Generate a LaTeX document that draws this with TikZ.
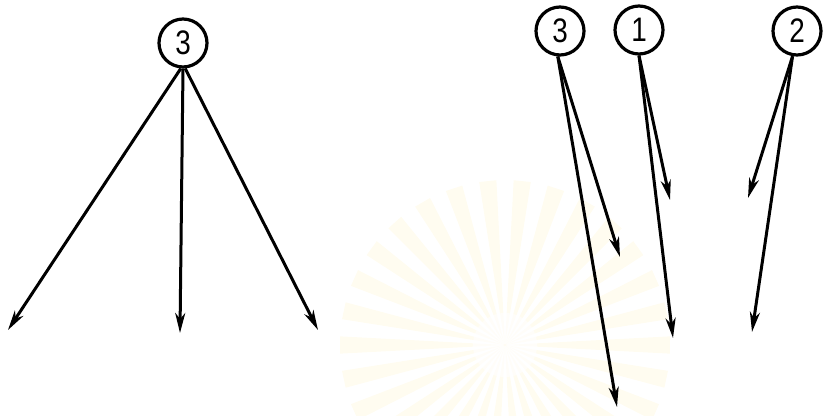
\documentclass[tikz,border=0pt]{standalone}
\usepackage{fontspec}
\setmainfont{Liberation Sans}
\newfontfamily\digitfont[FakeStretch=0.82]{Liberation Sans}
\usetikzlibrary{arrows.meta}
\begin{document}
\begin{tikzpicture}[x=1pt,y=-1pt,
  num/.style={circle,draw,line width=3.2pt,minimum size=48pt,inner sep=0pt,font=\digitfont\fontsize{34}{34}\selectfont},
  arr/.style={line width=3pt,-{Stealth[length=20pt,width=10pt,inset=6pt]}},
  ray/.style={fill=orange!45!yellow,opacity=0.06}]
\useasboundingbox (0,0) rectangle (826,415);
% faint watermark
\begin{scope}[shift={(505,345)}]
  \foreach \a in {0,12,...,348} {
    \fill[ray] (0,0) -- (\a-3:165) -- (\a+3:165) -- cycle;
  }
  \fill[white,opacity=0.6] (0,0) circle (32);
\end{scope}
% left group
\node[num] (L3) at (183,43) {3};
\coordinate (LA) at (8,330);
\coordinate (LB) at (180,333);
\coordinate (LC) at (318,330);
\draw[arr] (L3.265) -- (LA);
\draw[arr] (L3.270) -- (LB);
\draw[arr] (L3.275) -- (LC);
% right group
\node[num] (R3) at (560,31) {3};
\node[num] (R1) at (639,30) {1};
\node[num] (R2) at (797,31) {2};
\coordinate (R3a) at (620,257);
\coordinate (R3b) at (617,407);
\coordinate (R1a) at (670,200);
\coordinate (R1b) at (673,338);
\coordinate (R2a) at (748,198);
\coordinate (R2b) at (752,332);
\draw[arr] (R3.265) -- (R3a);
\draw[arr] (R3.265) -- (R3b);
\draw[arr] (R1.270) -- (R1a);
\draw[arr] (R1.270) -- (R1b);
\draw[arr] (R2.260) -- (R2a);
\draw[arr] (R2.260) -- (R2b);
\end{tikzpicture}
\end{document}
